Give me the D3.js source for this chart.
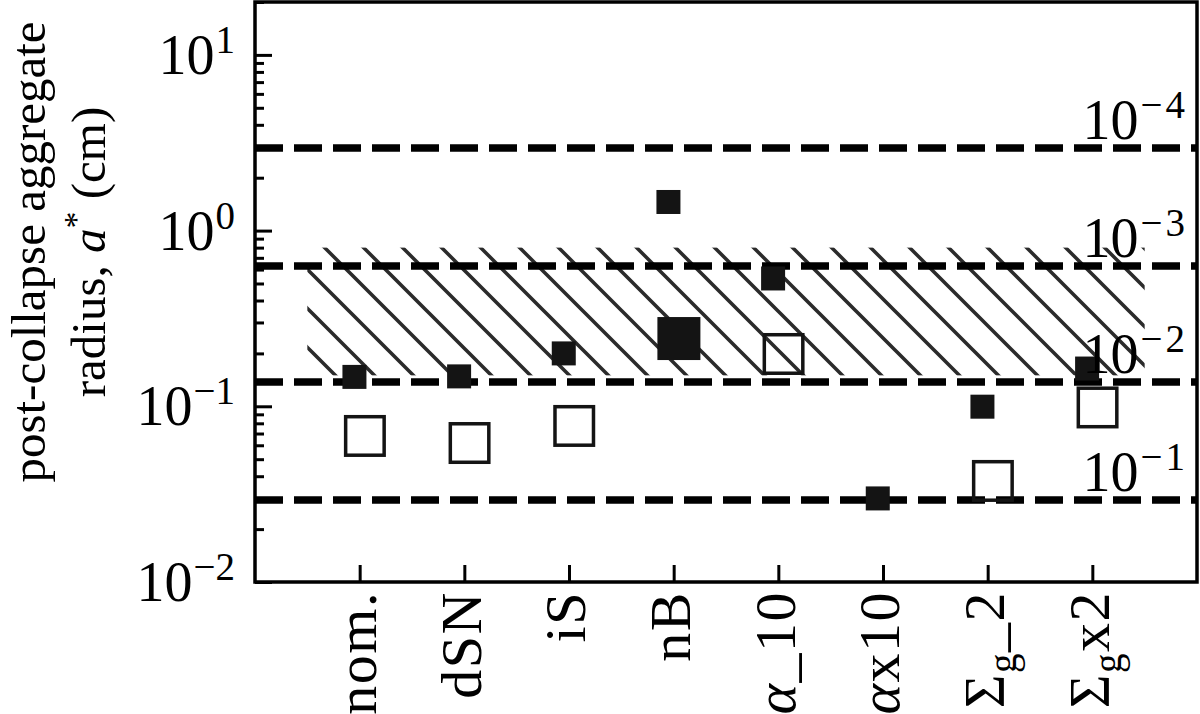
<!DOCTYPE html>
<html><head><meta charset="utf-8">
<script src="https://cdn.jsdelivr.net/npm/d3@7"></script>
<style>
body{margin:0;background:#fff}
text{font-family:"Liberation Serif","Times New Roman",serif;fill:#000}
</style>
</head><body>
<svg id="c" width="1200" height="714"></svg>
<script>
// ---------- data ----------
const categories = ["nom.", "dSN", "iS", "nB", "α_10", "αx10", "Σg_2", "Σgx2"];
const filledValues = [0.147, 0.148, 0.200, 1.455, 0.534, 0.0299, 0.0995, 0.164];
const openValues   = [0.0678, 0.0618, 0.0773, null, 0.1985, null, 0.0376, 0.0985];
const largeValues  = [null, null, null, 0.243, null, null, null, null];
const refLineValues = [2.95, 0.629, 0.1375, 0.0293];
const refLineExponents = ["−4", "−3", "−2", "−1"];
const bandLow = 0.15, bandHigh = 0.8;
const bandXStart = -0.5, bandXEnd = 7.5;
const yTickValues = [0.01, 0.1, 1, 10];
const yTickExponents = ["−2", "−1", "0", "1"];
const yLabelLine1 = "post-collapse aggregate";
const yLabelLine2 = ["radius, ", "a", "*", " (cm)"];

// ---------- layout ----------
const svg = d3.select("#c");
const L = 255, R = 1197, T = 2, B = 582;
const x = d3.scaleLinear().domain([-1, 8]).range([L, R]);
const y = d3.scaleLog().domain([0.01, 20]).range([B, T]);
const FS = 56, SUP = 39;

// hatch pattern
const defs = svg.append("defs");
const pat = defs.append("pattern").attr("id", "hatch")
  .attr("patternUnits", "userSpaceOnUse").attr("width", 39).attr("height", 39).attr("x", 38);
pat.append("path").attr("d", "M-5,-5L44,44M-5,34L5,44M34,-5L44,5")
  .attr("stroke", "#2b2b2b").attr("stroke-width", 3.6).attr("fill", "none");

svg.append("rect")
  .attr("x", x(bandXStart)).attr("width", x(bandXEnd) - x(bandXStart))
  .attr("y", y(bandHigh)).attr("height", y(bandLow) - y(bandHigh))
  .attr("fill", "url(#hatch)");

// dashed reference lines
svg.append("g").selectAll("line").data(refLineValues).join("line")
  .attr("x1", L).attr("x2", R)
  .attr("y1", d => y(d)).attr("y2", d => y(d))
  .attr("stroke", "#000").attr("stroke-width", 7.5)
  .attr("stroke-dasharray", "28,11");

// markers
const off = 0.05;
const filled = filledValues.map((v, i) => ({i, v})).filter(d => d.v != null);
const open = openValues.map((v, i) => ({i, v})).filter(d => d.v != null);
const large = largeValues.map((v, i) => ({i, v})).filter(d => d.v != null);
const s1 = 24, s2 = 43, s3 = 38.5;
svg.append("g").selectAll("rect").data(filled).join("rect")
  .attr("x", d => x(d.i - off) - s1 / 2).attr("y", d => y(d.v) - s1 / 2)
  .attr("width", s1).attr("height", s1).attr("fill", "#141414");
svg.append("g").selectAll("rect").data(large).join("rect")
  .attr("x", d => x(d.i + off) - s2 / 2).attr("y", d => y(d.v) - s2 / 2)
  .attr("width", s2).attr("height", s2).attr("fill", "#141414");
svg.append("g").selectAll("rect").data(open).join("rect")
  .attr("x", d => x(d.i + off) - s3 / 2).attr("y", d => y(d.v) - s3 / 2)
  .attr("width", s3).attr("height", s3).attr("fill", "none")
  .attr("stroke", "#141414").attr("stroke-width", 3.5);

// axes
const minor = [];
[0.01, 0.1, 1, 10].forEach(p => { for (let k = 2; k <= 9; k++) { const v = p * k; if (v <= 20) minor.push(v); } });
const gMinor = svg.append("g").attr("transform", `translate(${L},0)`)
  .call(d3.axisLeft(y).tickValues(minor).tickSizeInner(-9).tickSizeOuter(0).tickFormat(""));
const gY = svg.append("g").attr("transform", `translate(${L},0)`)
  .call(d3.axisLeft(y).tickValues(yTickValues).tickSizeInner(-17).tickSizeOuter(0).tickPadding(20).tickFormat(""));
const gX = svg.append("g").attr("transform", `translate(0,${B})`)
  .call(d3.axisBottom(x).tickValues(d3.range(categories.length)).tickSizeInner(-17).tickSizeOuter(0).tickFormat(""));
[gMinor, gY, gX].forEach(g => {
  g.select(".domain").remove();
  g.selectAll(".tick line").attr("stroke", "#000").attr("stroke-width", 3);
});

// y tick labels
gY.selectAll(".tick").each(function (d, i) {
  const t = d3.select(this).select("text").text(null)
    .attr("x", -20).attr("dy", "0.33em").attr("text-anchor", "end")
    .attr("font-size", FS).attr("font-family", "Liberation Serif");
  t.append("tspan").text("10");
  t.append("tspan").attr("font-size", SUP).attr("dy", -21).attr("dx", 1).text(yTickExponents[yTickValues.indexOf(d)]);
});

// x tick labels (rotated)
gX.selectAll(".tick").each(function (d) {
  const lab = categories[d];
  const g = d3.select(this);
  g.select("text").remove();
  const t = g.append("text").attr("transform", "translate(0,9) rotate(-90)")
    .attr("text-anchor", "end").attr("dy", "0.27em")
    .attr("font-size", 58).attr("letter-spacing", 1.5).attr("font-family", "Liberation Serif");
  if (lab.startsWith("Σg")) {
    t.append("tspan").text("Σ");
    t.append("tspan").attr("font-size", SUP).attr("dy", 12).text("g");
    t.append("tspan").attr("dy", -12).text(lab.slice(2));
  } else if (lab.startsWith("α")) {
    t.append("tspan").attr("font-style", "italic").text("α");
    t.append("tspan").text(lab.slice(1));
  } else {
    t.text(lab);
  }
});

// frame
svg.append("rect").attr("x", L).attr("y", T).attr("width", R - L).attr("height", B - T)
  .attr("fill", "none").attr("stroke", "#000").attr("stroke-width", 3.5);

// reference line labels
const lbl = svg.append("g").selectAll("text").data(refLineValues).join("text")
  .attr("x", 1188).attr("y", d => y(d) - 9).attr("text-anchor", "end")
  .attr("font-size", FS);
lbl.append("tspan").text("10");
lbl.append("tspan").attr("font-size", SUP).attr("dy", -21).attr("dx", 2).attr("letter-spacing", 3).text((d, i) => refLineExponents[i]);

// y label
const cy = 252;
svg.append("text").attr("transform", `translate(45,${cy}) rotate(-90)`)
  .attr("text-anchor", "middle").attr("font-size", 49).text(yLabelLine1);
const l2 = svg.append("text").attr("transform", `translate(105,${cy}) rotate(-90)`)
  .attr("text-anchor", "middle").attr("font-size", 49);
l2.append("tspan").text(yLabelLine2[0]);
l2.append("tspan").attr("font-style", "italic").text(yLabelLine2[1]);
l2.append("tspan").attr("font-size", 34).attr("dy", -18).text(yLabelLine2[2]);
l2.append("tspan").attr("dy", 18).text(yLabelLine2[3]);
</script>
</body></html>
